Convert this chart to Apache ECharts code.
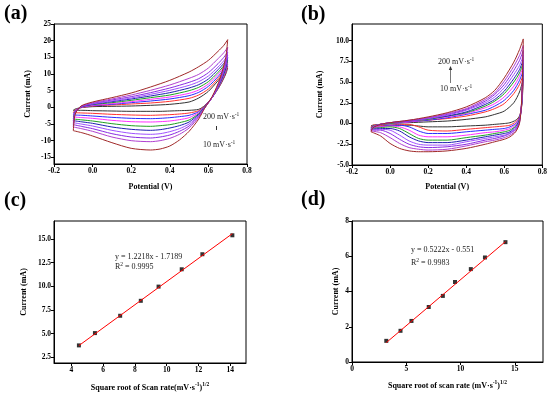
<!DOCTYPE html>
<html><head><meta charset="utf-8">
<script src="https://cdn.jsdelivr.net/npm/echarts@6/dist/echarts.min.js"></script>
<style>html,body{margin:0;padding:0;background:#fff}#c{width:550px;height:395px}</style>
</head><body><div id="c"></div>
<script>
const SERIF = '"Liberation Serif","Times New Roman",serif';
const CURVE_COLORS = ['#333333','#ff3030','#2a2aff','#ff30ff','#20a020','#2020b0','#a050ff','#8a2be2','#b040d0','#a02828'];

// Panel (a) CV curves: forward (upper) branch
const A_UP_V = [-0.1, -0.09, -0.06, 0, 0.1, 0.2, 0.3, 0.4, 0.5, 0.55, 0.6, 0.65, 0.68, 0.7];
const A_UP = [
  [-0.9, -0.5, -0.1, 0.2, 0.3, 0.4, 0.6, 0.9, 1.6, 2.8, 4.8, 8.0, 10.2, 11.8],
  [-1.6, -0.8, -0.1, 0.4, 0.7, 1.0, 1.3, 1.8, 2.7, 3.7, 5.5, 8.6, 10.8, 12.4],
  [-2.3, -1.0, 0.0, 0.5, 0.9, 1.4, 1.9, 2.5, 3.5, 4.5, 6.3, 9.2, 11.4, 13.0],
  [-2.9, -1.2, 0.0, 0.6, 1.1, 1.7, 2.4, 3.1, 4.2, 5.2, 7.0, 9.9, 12.0, 13.6],
  [-3.5, -1.4, 0.1, 0.8, 1.4, 2.1, 2.9, 3.7, 5.0, 6.0, 7.7, 10.5, 12.5, 14.2],
  [-4.0, -1.5, 0.1, 0.9, 1.7, 2.5, 3.4, 4.4, 5.8, 6.8, 8.5, 11.3, 13.2, 14.9],
  [-4.6, -1.6, 0.2, 1.0, 1.9, 2.8, 3.9, 5.1, 6.6, 7.7, 9.4, 12.1, 14.0, 15.7],
  [-5.2, -1.7, 0.2, 1.2, 2.2, 3.2, 4.4, 5.8, 7.5, 8.6, 10.4, 13.1, 15.0, 16.6],
  [-5.9, -1.8, 0.3, 1.4, 2.5, 3.7, 5.1, 6.7, 8.7, 9.9, 11.8, 14.6, 16.4, 18.0],
  [-7.0, -2.0, 0.4, 1.6, 2.9, 4.3, 6.1, 8.1, 10.6, 12.2, 14.1, 16.8, 18.6, 20.3]
];
// Panel (a) reverse (lower) branch
const A_LO_V = [0.7, 0.69, 0.66, 0.62, 0.58, 0.55, 0.5, 0.45, 0.4, 0.35, 0.3, 0.2, 0.1, 0, -0.05, -0.1];
const A_LO = [
  [11.8, 10.0, 6.5, 3.0, 0.5, -0.6, -0.9, -1.0, -1.1, -1.2, -1.2, -1.2, -1.1, -1.0, -0.9, -0.9],
  [12.4, 10.4, 6.7, 3.0, 0.4, -1.0, -1.7, -2.0, -2.2, -2.3, -2.4, -2.3, -2.1, -1.8, -1.7, -1.6],
  [13.0, 10.8, 6.9, 3.0, 0.3, -1.3, -2.4, -2.8, -3.1, -3.3, -3.4, -3.3, -3.0, -2.6, -2.4, -2.3],
  [13.6, 11.2, 7.0, 3.0, 0.2, -1.6, -3.1, -3.7, -4.1, -4.3, -4.4, -4.3, -3.9, -3.3, -3.1, -2.9],
  [14.2, 11.6, 7.2, 3.0, 0.1, -1.9, -3.8, -4.6, -5.2, -5.5, -5.7, -5.5, -4.9, -4.1, -3.8, -3.5],
  [14.9, 12.0, 7.4, 3.0, 0.0, -2.1, -4.4, -5.5, -6.2, -6.7, -6.9, -6.6, -5.9, -4.8, -4.4, -4.0],
  [15.7, 12.5, 7.6, 3.0, -0.1, -2.4, -5.0, -6.4, -7.3, -7.9, -8.1, -7.8, -6.9, -5.6, -5.1, -4.6],
  [16.6, 13.0, 7.8, 3.0, -0.2, -2.7, -5.6, -7.2, -8.3, -8.9, -9.2, -8.9, -7.9, -6.4, -5.8, -5.2],
  [18.0, 13.8, 8.1, 3.1, -0.3, -3.0, -6.2, -8.1, -9.3, -10.0, -10.3, -10.0, -8.9, -7.2, -6.5, -5.9],
  [20.3, 15.0, 8.6, 3.3, -0.3, -3.5, -7.2, -9.8, -11.6, -12.5, -12.8, -12.3, -10.6, -8.6, -7.7, -7.0]
];

// Panel (b) CV curves
const B_UP_V = [-0.1, -0.09, -0.05, 0, 0.1, 0.2, 0.3, 0.4, 0.5, 0.55, 0.6, 0.65, 0.68, 0.7];
const B_UP = [
  [-0.3, -0.2, -0.1, 0.0, 0.1, 0.2, 0.3, 0.5, 0.8, 1.1, 1.5, 2.5, 3.8, 5.4],
  [-0.4, -0.2, -0.1, 0.0, 0.2, 0.4, 0.6, 0.9, 1.4, 1.8, 2.4, 3.6, 4.7, 5.9],
  [-0.5, -0.3, -0.1, 0.0, 0.2, 0.4, 0.7, 1.1, 1.6, 2.1, 2.8, 4.0, 5.2, 6.4],
  [-0.5, -0.3, -0.1, 0.0, 0.2, 0.5, 0.8, 1.2, 1.9, 2.4, 3.2, 4.5, 5.7, 6.9],
  [-0.6, -0.3, -0.1, 0.0, 0.3, 0.5, 0.9, 1.3, 2.1, 2.7, 3.6, 5.0, 6.1, 7.3],
  [-0.7, -0.4, -0.1, 0.1, 0.3, 0.6, 0.9, 1.4, 2.3, 2.9, 3.9, 5.4, 6.5, 7.7],
  [-0.7, -0.4, -0.1, 0.1, 0.3, 0.6, 1.0, 1.6, 2.5, 3.2, 4.3, 5.9, 7.0, 8.2],
  [-0.8, -0.4, -0.1, 0.1, 0.3, 0.7, 1.1, 1.7, 2.7, 3.5, 4.7, 6.4, 7.6, 8.8],
  [-0.9, -0.4, -0.1, 0.1, 0.4, 0.7, 1.2, 1.8, 2.9, 3.7, 5.1, 6.9, 8.2, 9.4],
  [-1.0, -0.5, -0.1, 0.1, 0.4, 0.8, 1.3, 2.0, 3.1, 4.0, 5.5, 7.4, 8.9, 10.2]
];
const B_LO_V = [0.7, 0.695, 0.69, 0.68, 0.66, 0.63, 0.6, 0.55, 0.5, 0.4, 0.3, 0.2, 0.15, 0.1, 0.05, 0, -0.05, -0.1];
const B_LO = [
  [5.4, 3.0, 1.8, 0.9, 0.4, 0.1, 0.0, -0.1, -0.2, -0.3, -0.4, -0.4, -0.3, -0.2, -0.2, -0.2, -0.2, -0.3],
  [5.9, 3.3, 1.9, 0.8, 0.2, -0.2, -0.3, -0.4, -0.5, -0.7, -0.9, -0.8, -0.4, -0.1, -0.1, -0.2, -0.3, -0.4],
  [6.4, 3.5, 1.9, 0.7, 0.0, -0.4, -0.6, -0.7, -0.8, -1.0, -1.2, -1.2, -0.9, -0.4, -0.2, -0.2, -0.4, -0.5],
  [6.9, 3.8, 2.0, 0.6, -0.1, -0.6, -0.8, -1.0, -1.1, -1.4, -1.6, -1.6, -1.4, -0.8, -0.4, -0.3, -0.4, -0.5],
  [7.3, 4.0, 2.0, 0.5, -0.3, -0.8, -1.0, -1.2, -1.4, -1.7, -2.0, -2.0, -1.8, -1.2, -0.6, -0.4, -0.5, -0.6],
  [7.7, 4.2, 2.0, 0.4, -0.4, -1.0, -1.2, -1.4, -1.6, -2.0, -2.3, -2.3, -2.1, -1.6, -0.9, -0.6, -0.6, -0.7],
  [8.2, 4.4, 2.1, 0.3, -0.6, -1.1, -1.4, -1.6, -1.8, -2.2, -2.6, -2.6, -2.5, -2.1, -1.4, -0.8, -0.7, -0.7],
  [8.8, 4.6, 2.1, 0.2, -0.7, -1.2, -1.5, -1.8, -2.0, -2.5, -2.8, -2.9, -2.8, -2.5, -1.9, -1.2, -0.8, -0.8],
  [9.4, 4.8, 2.2, 0.1, -0.9, -1.4, -1.7, -2.0, -2.2, -2.7, -3.1, -3.2, -3.1, -2.9, -2.4, -1.7, -1.1, -0.9],
  [10.2, 5.0, 2.2, 0.0, -1.0, -1.6, -1.9, -2.2, -2.5, -3.0, -3.3, -3.4, -3.4, -3.3, -3.0, -2.4, -1.5, -1.0]
];

// Panel (c): peak current vs sqrt(scan rate)
const C_X = [4.47, 5.48, 7.07, 8.37, 9.49, 10.95, 12.25, 14.14];
const C_Y = [3.76, 5.06, 6.89, 8.47, 9.97, 11.8, 13.39, 15.39];
const C_FIT_X = [4.47, 14.14];
const C_FIT_Y = [3.74, 15.56];
// Panel (d)
const D_X = [3.16, 4.47, 5.48, 7.07, 8.37, 9.49, 10.95, 12.25, 14.14];
const D_Y = [1.2, 1.77, 2.33, 3.12, 3.75, 4.54, 5.27, 5.93, 6.8];
const D_FIT_X = [3.16, 14.14];
const D_FIT_Y = [1.10, 6.83];

// tick labels
const A_XTICKS = [-0.2, 0, 0.2, 0.4, 0.6, 0.8];
const A_YTICKS = [-15, -10, -5, 0, 5, 10, 15, 20, 25];
const B_XTICKS = [-0.2, 0, 0.2, 0.4, 0.6, 0.8];
const B_YTICKS = [-5, -2.5, 0, 2.5, 5, 7.5, 10];
const C_XTICKS = [4, 6, 8, 10, 12, 14];
const C_YTICKS = [2.5, 5, 7.5, 10, 12.5, 15];
const D_XTICKS = [0, 5, 10, 15];
const D_YTICKS = [0, 2, 4, 6, 8];

const labelStyle = {fontFamily: SERIF, fontSize: 7.5, fontWeight: 'bold', color: '#000', margin: 3};
const nameStyle = {fontFamily: SERIF, fontSize: 8, fontWeight: 'bold', color: '#000',
  rich: {n: {fontFamily: SERIF, fontSize: 8, fontWeight: 'bold', lineHeight: 11},
         s: {fontFamily: SERIF, fontSize: 5.5, fontWeight: 'bold', lineHeight: 6, verticalAlign: 'top'}}};

function axis(gridIndex, min, max, ticks, fmt, name, gap) {
  return {
    type: 'value', gridIndex, min, max,
    name, nameLocation: 'middle', nameGap: gap, nameTextStyle: nameStyle,
    axisLine: {show: true, onZero: false, lineStyle: {color: '#000', width: 1}},
    axisTick: {show: true, inside: false, length: 3, customValues: ticks, lineStyle: {color: '#000'}},
    axisLabel: Object.assign({customValues: ticks, formatter: v => fmt(v)}, labelStyle),
    splitLine: {show: false}
  };
}
const f1 = v => Number(v).toFixed(1);
const f0 = v => String(Math.round(v));

const grids = [
  {left: 54, top: 24, width: 193, height: 140},
  {left: 352, top: 24, width: 191, height: 141},
  {left: 54, top: 221, width: 192, height: 142},
  {left: 352, top: 221, width: 191, height: 141}
].map(g => Object.assign({show: true, borderColor: '#000', borderWidth: 1, backgroundColor: 'transparent'}, g));

const xAxes = [
  axis(0, -0.2, 0.8, A_XTICKS, f1, 'Potential (V)', 19),
  axis(1, -0.2, 0.8, B_XTICKS, f1, 'Potential (V)', 18),
  axis(2, 2.9, 15, C_XTICKS, f0, '{n|Square root of Scan rate(mV·s}{s|-1}{n|)}{s|1/2}', 19),
  axis(3, 0, 17.6, D_XTICKS, f0, '{n|Square root of scan rate (mV·s}{s|-1}{n|)}{s|1/2}', 18)
];
const yAxes = [
  axis(0, -17, 25, A_YTICKS, f0, 'Current (mA)', 22),
  axis(1, -5, 12, B_YTICKS, f1, 'Current (mA)', 28),
  axis(2, 1.9, 16.9, C_YTICKS, f1, 'Current (mA)', 26),
  axis(3, 0, 8, D_YTICKS, f0, 'Current (mA)', 12)
];

const series = [];
function addCV(idx, upV, up, loV, lo) {
  for (let i = 0; i < up.length; i++) {
    const data = upV.map((v, j) => [v, up[i][j]]).concat(loV.slice(1).map((v, j) => [v, lo[i][j + 1]]));
    series.push({type: 'line', xAxisIndex: idx, yAxisIndex: idx, data, showSymbol: false, smooth: 0.25,
      lineStyle: {color: CURVE_COLORS[i], width: 1}, itemStyle: {color: CURVE_COLORS[i]}, animation: false, silent: true});
  }
}
addCV(0, A_UP_V, A_UP, A_LO_V, A_LO);
addCV(1, B_UP_V, B_UP, B_LO_V, B_LO);
function addFit(idx, xs, ys, fx, fy) {
  series.push({type: 'line', xAxisIndex: idx, yAxisIndex: idx, data: fx.map((x, i) => [x, fy[i]]), showSymbol: false,
    lineStyle: {color: '#ff0000', width: 1}, animation: false, silent: true});
  series.push({type: 'scatter', xAxisIndex: idx, yAxisIndex: idx, data: xs.map((x, i) => [x, ys[i]]), symbol: 'rect',
    symbolSize: 4, itemStyle: {color: '#000'}, animation: false, silent: true});
}
addFit(2, C_X, C_Y, C_FIT_X, C_FIT_Y);
addFit(3, D_X, D_Y, D_FIT_X, D_FIT_Y);

const annRich = {n: {fontFamily: SERIF, fontSize: 8, color: '#222', lineHeight: 11},
                 s: {fontFamily: SERIF, fontSize: 5.5, color: '#222', lineHeight: 6, verticalAlign: 'top'}};
function txt(x, y, text) {
  return {type: 'text', x, y, silent: true, style: {text, rich: annRich, fontFamily: SERIF, fontSize: 8,
    fill: '#222', verticalAlign: 'middle', align: 'left'}};
}
function letter(x, y, t) {
  return {type: 'text', x, y, silent: true, style: {text: t, fontFamily: SERIF, fontSize: 20, fontWeight: 'bold',
    fill: '#000', verticalAlign: 'middle', align: 'left'}};
}
const graphic = [
  letter(4, 14, '(a)'), letter(301, 15, '(b)'), letter(4, 201, '(c)'), letter(301, 200, '(d)'),
  txt(203, 117, '{n|200 mV·s}{s|-1}'),
  txt(203, 145, '{n|10 mV·s}{s|-1}'),
  {type: 'line', silent: true, shape: {x1: 216.5, y1: 130, x2: 216.5, y2: 126}, style: {stroke: '#333', lineWidth: 1}},
  txt(438, 62, '{n|200 mV·s}{s|-1}'),
  txt(440, 89, '{n|10 mV·s}{s|-1}'),
  {type: 'line', silent: true, shape: {x1: 450.5, y1: 83, x2: 450.5, y2: 69}, style: {stroke: '#555', lineWidth: 0.8}},
  {type: 'polygon', silent: true, shape: {points: [[448.8, 70], [452.2, 70], [450.5, 66]]}, style: {fill: '#333'}},
  txt(115, 257, '{n|y = 1.2218x - 1.7189}'),
  txt(115, 267, '{n|R}{s|2}{n| = 0.9995}'),
  txt(411, 250, '{n|y = 0.5222x - 0.551}'),
  txt(411, 263, '{n|R}{s|2}{n| = 0.9983}')
];

const chart = echarts.init(document.getElementById('c'), null, {renderer: 'canvas'});
chart.setOption({
  animation: false, backgroundColor: '#fff',
  grid: grids, xAxis: xAxes, yAxis: yAxes, series, graphic
});
</script></body></html>
